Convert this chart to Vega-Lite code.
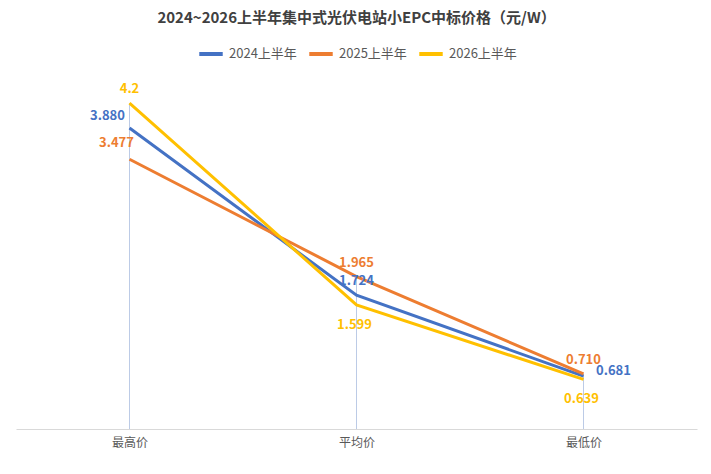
{
  "$schema": "https://vega.github.io/schema/vega-lite/v6.json",
  "width": 711,
  "height": 474,
  "autosize": {"type": "fit", "contains": "padding"},
  "padding": {"left": 16, "right": 14, "top": 11, "bottom": 26},
  "background": "white",
  "title": {
    "text": "2024~2026上半年集中式光伏电站小EPC中标价格（元/W）",
    "font": "Noto Sans CJK SC",
    "fontSize": 15,
    "fontWeight": "bold",
    "color": "#404040",
    "anchor": "middle",
    "offset": 14
  },
  "data": {
    "values": [
      {"series": "2024上半年", "cat": "最高价", "value": 3.88, "label": "3.880"},
      {"series": "2024上半年", "cat": "平均价", "value": 1.724, "label": "1.724"},
      {"series": "2024上半年", "cat": "最低价", "value": 0.681, "label": "0.681"},
      {"series": "2025上半年", "cat": "最高价", "value": 3.477, "label": "3.477"},
      {"series": "2025上半年", "cat": "平均价", "value": 1.965, "label": "1.965"},
      {"series": "2025上半年", "cat": "最低价", "value": 0.71, "label": "0.710"},
      {"series": "2026上半年", "cat": "最高价", "value": 4.2, "label": "4.2"},
      {"series": "2026上半年", "cat": "平均价", "value": 1.599, "label": "1.599"},
      {"series": "2026上半年", "cat": "最低价", "value": 0.639, "label": "0.639"}
    ]
  },
  "encoding": {
    "x": {
      "field": "cat",
      "type": "nominal",
      "scale": {"type": "point", "domain": ["最高价", "平均价", "最低价"], "padding": 0.5},
      "axis": {
        "title": null,
        "labelAngle": 0,
        "ticks": false,
        "domainColor": "#d9d9d9",
        "labelColor": "#595959",
        "labelFont": "Noto Sans CJK SC",
        "labelFontSize": 12,
        "labelPadding": 8,
        "grid": false
      }
    },
    "y": {
      "field": "value",
      "type": "quantitative",
      "scale": {"domain": [0, 4.55]},
      "axis": null
    },
    "color": {
      "field": "series",
      "type": "nominal",
      "scale": {"domain": ["2024上半年", "2025上半年", "2026上半年"], "range": ["#4472C4", "#ED7D31", "#FFC000"]},
      "legend": {
        "title": null,
        "orient": "top",
        "direction": "horizontal",
        "symbolType": "stroke",
        "symbolStrokeWidth": 4,
        "symbolSize": 550,
        "labelFont": "Noto Sans CJK SC",
        "labelFontSize": 13,
        "labelColor": "#595959",
        "columnPadding": 4,
        "offset": 14
      }
    }
  },
  "layer": [
    {
      "data": {"values": [{"t": "北极星太阳能光伏网"}]},
      "mark": {"type": "text", "font": "Noto Sans CJK SC", "fontSize": 52, "fontWeight": "bold", "fontStyle": "italic", "dx": 35},
      "encoding": {
        "x": {"datum": "平均价", "type": "nominal"},
        "y": {"datum": 2.89, "type": "quantitative"},
        "text": {"field": "t", "type": "nominal"},
        "color": {"value": "#e3e3e3"}
      }
    },
    {
      "mark": {"type": "rule", "strokeWidth": 1},
      "encoding": {
        "y2": {"datum": 0},
        "color": {"value": "#bccbe6"}
      }
    },
    {
      "mark": {"type": "line", "strokeWidth": 3}
    },
    {
      "transform": [{"filter": "(datum.series == '2026上半年' && datum.cat == '最高价') || (datum.series != '2026上半年' && datum.cat == '平均价') || (datum.series == '2025上半年' && datum.cat == '最低价')"}],
      "mark": {"type": "text", "font": "Noto Sans CJK SC", "fontSize": 13, "fontWeight": "bold", "dy": -14},
      "encoding": {"text": {"field": "label"}}
    },
    {
      "transform": [{"filter": "datum.series == '2024上半年' && datum.cat == '最高价'"}],
      "mark": {"type": "text", "font": "Noto Sans CJK SC", "fontSize": 13, "fontWeight": "bold", "dx": -22, "dy": -12},
      "encoding": {"text": {"field": "label"}}
    },
    {
      "transform": [{"filter": "datum.series == '2025上半年' && datum.cat == '最高价'"}],
      "mark": {"type": "text", "font": "Noto Sans CJK SC", "fontSize": 13, "fontWeight": "bold", "dx": -13, "dy": -16},
      "encoding": {"text": {"field": "label"}}
    },
    {
      "transform": [{"filter": "datum.series == '2026上半年' && datum.cat != '最高价'"}],
      "mark": {"type": "text", "font": "Noto Sans CJK SC", "fontSize": 13, "fontWeight": "bold", "dx": -2, "dy": 20},
      "encoding": {"text": {"field": "label"}}
    },
    {
      "transform": [{"filter": "datum.series == '2024上半年' && datum.cat == '最低价'"}],
      "mark": {"type": "text", "font": "Noto Sans CJK SC", "fontSize": 13, "fontWeight": "bold", "dx": 30, "dy": -5},
      "encoding": {"text": {"field": "label"}}
    }
  ],
  "config": {
    "view": {"stroke": null},
    "font": "Noto Sans CJK SC",
    "legend": {"layout": {"top": {"anchor": "middle"}}}
  }
}
